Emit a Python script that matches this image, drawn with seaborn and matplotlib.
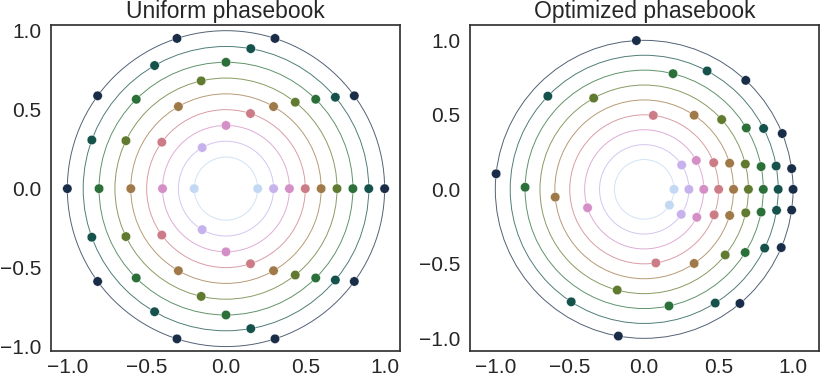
# Uniform vs optimized phasebook: points on concentric amplitude rings

import numpy as np
import pandas as pd
import seaborn as sns
import matplotlib.pyplot as plt

OUTPUT_PNG = 'out.png'

# ring amplitudes (one colour per ring)
RADII = [0.2, 0.3, 0.4, 0.5, 0.6, 0.7, 0.8, 0.9, 1.0]

# phases in degrees, one list per ring
UNIFORM_DEG = [
    [0, 180],
    [0, 120, 240],
    [0, 90, 180, 270],
    [0, 72, 144, 216, 288],
    [0, 60, 120, 180, 240, 300],
    [0, 51.4, 102.9, 154.3, 205.7, 257.1, 308.6],
    [0, 45, 90, 135, 180, 225, 270, 315],
    [0, 40, 80, 120, 160, 200, 240, 280, 320],
    [0, 36, 72, 108, 144, 180, 216, 252, 288, 324],
]

OPTIMIZED_DEG = [
    [0, -32],
    [0, 33, -34],
    [0, 29, -28, 198],
    [0, 21, -20, 83, -81],
    [0, 17, -17, 56, -56, 185],
    [0, 14, -13, 42, -39, 119, 255],
    [0, 11, -11, 31, -32, 76, -78, 179],
    [0, 10, -9, 27, -26, 62, -58, 136, 237],
    [0, 8, -8, 22, -23, 47, -50, 93, 260, 174],
]

TITLES = ['Uniform phasebook', 'Optimized phasebook']
TICKS = [-1.0, -0.5, 0.0, 0.5, 1.0]


def to_frame(radii, phases):
    rows = []
    for i, (r, degs) in enumerate(zip(radii, phases)):
        for d in degs:
            a = np.deg2rad(d)
            rows.append([r * np.cos(a), r * np.sin(a), i])
    return pd.DataFrame(rows, columns=['x', 'y', 'ring'])


sns.set_style('white')
plt.rcParams['font.family'] = ['Liberation Sans', 'DejaVu Sans']

# cubehelix without the near-black / near-white ends
colors = sns.color_palette('cubehelix_r', len(RADII) + 2)[1:-1]

fig = plt.figure(figsize=(8.22, 3.76), dpi=100)
W, H = 822, 376
ax_l = fig.add_axes([51 / W, 25 / H, 349 / W, 326 / H])
ax_r = fig.add_axes([470 / W, 25 / H, 349 / W, 326 / H])

for ax, phases, title in zip([ax_l, ax_r], [UNIFORM_DEG, OPTIMIZED_DEG], TITLES):
    df = to_frame(RADII, phases)
    for i, r in enumerate(RADII):
        ax.add_patch(plt.Circle((0, 0), r, fill=False, color=colors[i], lw=0.7,
                                alpha=0.75, zorder=1))
    sns.scatterplot(data=df, x='x', y='y', hue='ring', palette=colors, legend=False,
                    s=46, linewidth=0.3, edgecolor='white', ax=ax, zorder=3)
    ax.set_title(title, fontsize=16.5, pad=5)
    ax.set_xlabel('')
    ax.set_ylabel('')
    ax.set_xticks(TICKS)
    ax.set_yticks(TICKS)
    ax.tick_params(axis='y', labelsize=15, pad=3.5)
    ax.tick_params(axis='x', labelsize=15, pad=1.5)
    for spine in ax.spines.values():
        spine.set_linewidth(1.25)
        spine.set_color('.2')

ax_l.set_xlim(-1.103, 1.097)
ax_l.set_ylim(-1.028, 1.036)
ax_r.set_xlim(-1.17, 1.174)
ax_r.set_ylim(-1.085, 1.103)

fig.savefig(OUTPUT_PNG, dpi=100)
